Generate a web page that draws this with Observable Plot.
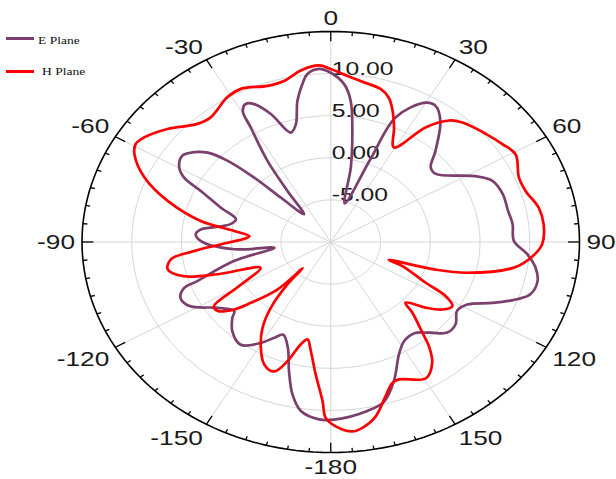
<!DOCTYPE html>
<html><head><meta charset="utf-8">
<script src="https://cdn.jsdelivr.net/npm/d3@7"></script>
<script src="https://cdn.jsdelivr.net/npm/@observablehq/plot@0.6"></script>
<style>
body{margin:0;background:#fff;}
#wrap{position:relative;width:616px;height:479px;overflow:hidden;}
.leg{position:absolute;font-family:"Liberation Serif","Times New Roman",serif;font-size:11px;line-height:11px;color:#111;white-space:nowrap;transform:scaleX(1.23);transform-origin:left center;}
.sw{position:absolute;width:28px;height:3px;}
</style></head><body><div id="wrap"></div>
<script>
// ---- data (angle in degrees, gain in dB) ----
const eAngles=[-176.8,-171.5,-168,-164.7,-161.1,-156.6,-153.5,-149.6,-143.4,-137,-132.4,-130.2,-124.5,-118.2,-113.8,-110.3,-109.1,-103.1,-96.8,-95.1,-89.5,-86.1,-83.4,-82,-78.1,-74.2,-69.7,-65.1,-62.6,-59.9,-55.5,-52.2,-49.4,-47.1,-45.2,-43.6,-39.1,-35.6,-33.4,-30.6,-29.6,-27.5,-25.2,-21.6,-17.2,-14.1,-11.3,-8.6,-6.7,-3.3,0,4.1,6.8,9.6,12.8,17,22.1,23.8,29.9,33.1,37.5,44.2,48.6,52.5,61.7,65.9,71.7,78.3,83.3,89.6,94.2,98.4,102.6,107.2,110,114,118.4,122.8,127.9,132.6,137.1,142.2,148,152.8,159,164.2,169.6,179.1];
const eValues=[11.1,10.3,8.5,5.9,3.3,2.0,2.7,3.9,5.2,4.5,3.4,2.7,3.8,6.1,6.5,5.7,4.2,0.0,-4.3,-0.3,3.05,3.6,3.1,2.2,0.3,-0.1,1.8,4.4,6.6,7.6,8.1,7.4,6.3,4.2,0.9,-2.7,-5.75,-2.5,1.55,5.8,7.9,8.5,8.1,6.35,3.6,4.4,7.1,9.0,10.1,10.6,10.1,8.8,6.9,3.0,-0.9,-5.2,0.7,6.2,9.1,9.3,8.1,5.1,3.4,3.3,6.5,7.8,8.2,8.2,8.4,8.4,9.8,10.8,11.3,11.0,9.9,7.8,5.6,5.1,5.9,5.9,4.7,3.7,3.9,5.0,7.7,9.7,10.4,11.1];
const hAngles=[-178.6,-177.5,-174.5,-171.2,-168.6,-166.1,-162.9,-159.7,-155.3,-150.8,-146.1,-142.4,-139.2,-137.8,-136.5,-132,-129.5,-125.8,-123,-119.8,-113.5,-108.6,-105.4,-101.2,-97.3,-94.5,-91.4,-86.5,-85.1,-82.3,-79.2,-73.4,-67.8,-62.2,-59.3,-56.5,-50.7,-43.7,-39.2,-31.1,-26.4,-18.9,-13.8,-8.4,-3.2,0,4.9,10,15.4,18.8,21.7,25.1,29.5,35,39.5,43,50.5,56,60.7,68,72.8,79,84.4,90.7,95.3,99.4,104.9,107.4,110.1,111.7,116.9,119.1,121.9,125.5,129.3,133.8,135.7,139.5,141.4,144.6,149.4,157.2,159.7,163.2,167.7,171.8,174.5,178.7];
const hValues=[10.9,8.9,5.8,3.1,1.8,2.5,4.8,6.4,6.0,4.4,2.3,-0.1,-3.3,-5.8,-2.2,0.8,2.6,4.0,4.0,0.8,-2.3,2.0,5.3,6.7,6.2,3.8,1.0,-1.6,-1.8,-0.2,3.3,7.1,10.2,12.3,12.8,12.5,11.2,9.4,9.1,10.1,10.3,9.6,9.7,10.6,11.0,10.55,9.8,9.25,8.85,8.1,6.8,5.0,2.9,6.6,8.7,9.4,10.2,10.8,11.3,10.4,10.5,11.3,11.5,11.25,10.2,8.65,4.2,0.9,-3.8,-2.25,0.7,3.2,4.4,3.8,2.3,0.4,1.75,4.2,5.8,7.6,8.8,7.7,7.85,9.1,11.2,12.3,12.6,11.9];
const seriesNames=["E Plane","H Plane"];
const seriesColors=["#7b3f6e","#ff0000"];
const ringValues=[-5,0,5,10];
const ringLabels=["-5.00","0.00","5.00","10.00"];
const angleTickValues=[0,30,60,90,120,150,180,210,240,270,300,330];
const angleTickLabels=["0","30","60","90","120","150","-180","-150","-120","-90","-60","-30"];
const rMin=-10, rMax=15;

// ---- polar helpers ----
const R=rMax-rMin;
const rad=d=>d*Math.PI/180;
const P=(deg,r)=>({x:r*Math.sin(rad(deg)),y:r*Math.cos(rad(deg))});
const toXY=(angles,values)=>angles.map((a,i)=>({angle:a,value:values[i],...P(a,values[i]-rMin)}));
const eData=toXY(eAngles,eValues);
const hData=toXY(hAngles,hValues);
const circle=r=>d3.range(0,361,2).map(a=>P(a,r));

const width=616,height=479;
const mL=81.5,mR=37,mT=31,mB=27;
const pxX=(width-mL-mR)/(2*R), pxY=(height-mT-mB)/(2*R);

const marks=[];
ringValues.forEach(v=>marks.push(Plot.line(circle(v-rMin),{x:"x",y:"y",stroke:"#d6d6d6",strokeWidth:1})));
marks.push(Plot.link(angleTickValues,{x1:()=>0,y1:()=>0,x2:a=>P(a,R).x,y2:a=>P(a,R).y,stroke:"#d6d6d6",strokeWidth:1}));
marks.push(Plot.line(circle(R),{x:"x",y:"y",stroke:"#000",strokeWidth:1.6}));
const tickAngles=d3.range(0,360,5);
marks.push(Plot.link(tickAngles,{
  x1:a=>P(a,R).x,y1:a=>P(a,R).y,
  x2:a=>P(a,R-(a%30===0?1.15:0.45)).x,y2:a=>P(a,R-(a%30===0?1.15:0.45)).y,
  stroke:"#000",strokeWidth:1.3}));
angleTickValues.forEach((a,i)=>{
  const s=Math.sin(rad(a)),c=Math.cos(rad(a));
  const ta=s>0.01?"start":s<-0.01?"end":"middle";
  const la=c>0.01?"bottom":c<-0.01?"top":"middle";
  const gx=7/pxX, gy=7/pxY;
  marks.push(Plot.text([a],{x:d=>s*(R+gx),y:d=>c*(R+gy),text:()=>angleTickLabels[i],
    textAnchor:ta,lineAnchor:la,fontSize:21,fill:"#1a1a1a",fontFamily:"Liberation Sans, Arial, sans-serif"}));
});
marks.push(Plot.text(ringValues,{x:()=>0,y:v=>v-rMin,text:(v,i)=>ringLabels[i],textAnchor:"start",lineAnchor:"bottom",dx:1,dy:1.5,
  fontSize:19,fill:"#1a1a1a",fontFamily:"Liberation Sans, Arial, sans-serif"}));
marks.push(Plot.line(eData,{x:"x",y:"y",stroke:seriesColors[0],strokeWidth:2.7,curve:"catmull-rom-closed",strokeLinejoin:"round"}));
marks.push(Plot.line(hData,{x:"x",y:"y",stroke:seriesColors[1],strokeWidth:2.7,curve:"catmull-rom-closed",strokeLinejoin:"round"}));

const svg=Plot.plot({
  width,height,marginLeft:mL,marginRight:mR,marginTop:mT,marginBottom:mB,
  x:{domain:[-R,R],axis:null},y:{domain:[-R,R],axis:null},
  style:{background:"transparent",overflow:"visible"},
  marks
});
// horizontal stretch of the text, as in the reference picture
svg.querySelectorAll("text").forEach(t=>{
  const s=t.textContent;
  const k=ringLabels.includes(s)?1.3:angleTickLabels.includes(s)?1.25:1;
  if(k===1) return;
  const tr=t.getAttribute("transform");
  if(tr){t.setAttribute("transform",tr+` scale(${k},1)`);}
  else{
    const x=+t.getAttribute("x")||0;
    t.setAttribute("transform",`translate(${x},0) scale(${k},1)`);t.removeAttribute("x");
  }
});
const wrap=document.getElementById("wrap");
wrap.appendChild(svg);
svg.style.position="absolute";svg.style.left="0";svg.style.top="0";
const legY=[[38.3,35.3,38],[71.7,66,41.7]];
seriesNames.forEach((n,i)=>{
  const sw=document.createElement("div");sw.className="sw";
  sw.style.left="6px";sw.style.top=(legY[i][0]-1.5)+"px";sw.style.background=seriesColors[i];
  wrap.appendChild(sw);
  const lb=document.createElement("div");lb.className="leg";
  lb.style.left=legY[i][2]+"px";lb.style.top=legY[i][1]+"px";lb.textContent=n;
  wrap.appendChild(lb);
});
</script></body></html>
